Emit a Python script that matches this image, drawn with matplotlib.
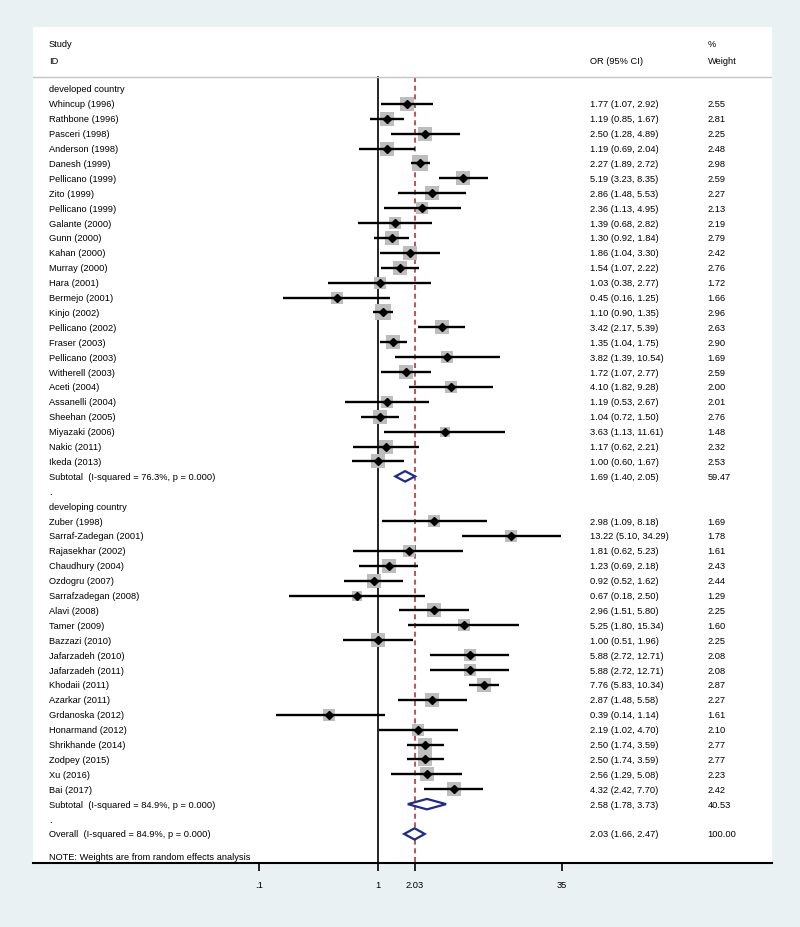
import matplotlib.pyplot as plt
import numpy as np

plt.rcParams['font.family'] = ['Liberation Sans', 'DejaVu Sans']

# developed country studies
dev_names = ["Whincup (1996)", "Rathbone (1996)", "Pasceri (1998)", "Anderson (1998)", "Danesh (1999)",
             "Pellicano (1999)", "Zito (1999)", "Pellicano (1999)", "Galante (2000)", "Gunn (2000)",
             "Kahan (2000)", "Murray (2000)", "Hara (2001)", "Bermejo (2001)", "Kinjo (2002)",
             "Pellicano (2002)", "Fraser (2003)", "Pellicano (2003)", "Witherell (2003)", "Aceti (2004)",
             "Assanelli (2004)", "Sheehan (2005)", "Miyazaki (2006)", "Nakic (2011)", "Ikeda (2013)"]
dev_or = [1.77, 1.19, 2.50, 1.19, 2.27, 5.19, 2.86, 2.36, 1.39, 1.30, 1.86, 1.54, 1.03, 0.45, 1.10,
          3.42, 1.35, 3.82, 1.72, 4.10, 1.19, 1.04, 3.63, 1.17, 1.00]
dev_lo = [1.07, 0.85, 1.28, 0.69, 1.89, 3.23, 1.48, 1.13, 0.68, 0.92, 1.04, 1.07, 0.38, 0.16, 0.90,
          2.17, 1.04, 1.39, 1.07, 1.82, 0.53, 0.72, 1.13, 0.62, 0.60]
dev_hi = [2.92, 1.67, 4.89, 2.04, 2.72, 8.35, 5.53, 4.95, 2.82, 1.84, 3.30, 2.22, 2.77, 1.25, 1.35,
          5.39, 1.75, 10.54, 2.77, 9.28, 2.67, 1.50, 11.61, 2.21, 1.67]
dev_w = [2.55, 2.81, 2.25, 2.48, 2.98, 2.59, 2.27, 2.13, 2.19, 2.79, 2.42, 2.76, 1.72, 1.66, 2.96,
         2.63, 2.90, 1.69, 2.59, 2.00, 2.01, 2.76, 1.48, 2.32, 2.53]
dev_sub = (1.69, 1.40, 2.05, 59.47)
dev_sub_label = "Subtotal  (I-squared = 76.3%, p = 0.000)"

# developing country studies
dvg_names = ["Zuber (1998)", "Sarraf-Zadegan (2001)", "Rajasekhar (2002)", "Chaudhury (2004)",
             "Ozdogru (2007)", "Sarrafzadegan (2008)", "Alavi (2008)", "Tamer (2009)", "Bazzazi (2010)",
             "Jafarzadeh (2010)", "Jafarzadeh (2011)", "Khodaii (2011)", "Azarkar (2011)",
             "Grdanoska (2012)", "Honarmand (2012)", "Shrikhande (2014)", "Zodpey (2015)", "Xu (2016)",
             "Bai (2017)"]
dvg_or = [2.98, 13.22, 1.81, 1.23, 0.92, 0.67, 2.96, 5.25, 1.00, 5.88, 5.88, 7.76, 2.87, 0.39, 2.19,
          2.50, 2.50, 2.56, 4.32]
dvg_lo = [1.09, 5.10, 0.62, 0.69, 0.52, 0.18, 1.51, 1.80, 0.51, 2.72, 2.72, 5.83, 1.48, 0.14, 1.02,
          1.74, 1.74, 1.29, 2.42]
dvg_hi = [8.18, 34.29, 5.23, 2.18, 1.62, 2.50, 5.80, 15.34, 1.96, 12.71, 12.71, 10.34, 5.58, 1.14,
          4.70, 3.59, 3.59, 5.08, 7.70]
dvg_w = [1.69, 1.78, 1.61, 2.43, 2.44, 1.29, 2.25, 1.60, 2.25, 2.08, 2.08, 2.87, 2.27, 1.61, 2.10,
         2.77, 2.77, 2.23, 2.42]
dvg_sub = (2.58, 1.78, 3.73, 40.53)
dvg_sub_label = "Subtotal  (I-squared = 84.9%, p = 0.000)"

overall = (2.03, 1.66, 2.47, 100.00)
overall_label = "Overall  (I-squared = 84.9%, p = 0.000)"

xticks = [0.1, 1, 2.03, 35]
xtick_labels = [".1", "1", "2.03", "35"]

fs = 6.7
bg = "#e9f1f3"
box_color = "#bdbdbd"
navy = "#1f2b84"
red = "#b3373a"

fig = plt.figure(figsize=(8, 9.28), dpi=100, facecolor=bg)
# white plot region
ax = fig.add_axes([33 / 800, 1 - 864 / 928, (772 - 33) / 800, (864 - 28) / 928])
ax.set_facecolor("white")
ax.set_xscale("log")
ax.set_xlim(10 ** -2.899, 10 ** 3.311)
ax.set_ylim(51.95, -4.16)

tr = ax.get_yaxis_transform()  # x in axes fraction, y in data rows
x_lab, x_or, x_w = 0.0217, 0.754, 0.913


def fmt_ci(e, lo, hi):
    return f"{e:.2f} ({lo:.2f}, {hi:.2f})"


def draw_study(row, name, e, lo, hi, w):
    ax.plot([lo, hi], [row, row], color="black", lw=1.7, solid_capstyle="butt", zorder=3)
    ax.scatter([e], [row], marker="s", s=40 * w, color=box_color, linewidths=0, zorder=2)
    ax.plot([e], [row], marker="D", ms=3.8, color="black", zorder=4)
    ax.text(x_lab, row, name, transform=tr, fontsize=fs, va="center")
    ax.text(x_or, row, fmt_ci(e, lo, hi), transform=tr, fontsize=fs, va="center")
    ax.text(x_w, row, f"{w:.2f}", transform=tr, fontsize=fs, va="center")


def draw_diamond(row, label, est, h=0.35):
    e, lo, hi, w = est
    ax.fill([lo, e, hi, e, lo], [row, row - h, row, row + h, row], facecolor="white",
            edgecolor=navy, lw=1.6, zorder=5)
    ax.text(x_lab, row, label, transform=tr, fontsize=fs, va="center")
    ax.text(x_or, row, fmt_ci(e, lo, hi), transform=tr, fontsize=fs, va="center")
    ax.text(x_w, row, f"{w:.2f}", transform=tr, fontsize=fs, va="center")


# header
ax.text(x_lab, -3.02, "Study", transform=tr, fontsize=fs, va="center")
ax.text(x_lab, -1.88, "ID", transform=tr, fontsize=fs, va="center")
ax.text(x_or, -1.88, "OR (95% CI)", transform=tr, fontsize=fs, va="center")
ax.text(x_w, -3.02, "%", transform=tr, fontsize=fs, va="center")
ax.text(x_w, -1.88, "Weight", transform=tr, fontsize=fs, va="center")
ax.axhline(-0.8, color="#c4c4c4", lw=1.0)

row = 0
ax.text(x_lab, row, "developed country", transform=tr, fontsize=fs, va="center")
for i in range(len(dev_names)):
    row += 1
    draw_study(row, dev_names[i], dev_or[i], dev_lo[i], dev_hi[i], dev_w[i])
row += 1
draw_diamond(row, dev_sub_label, dev_sub)
row += 1
ax.text(x_lab, row, ".", transform=tr, fontsize=fs, va="center")
row += 1
ax.text(x_lab, row, "developing country", transform=tr, fontsize=fs, va="center")
for i in range(len(dvg_names)):
    row += 1
    draw_study(row, dvg_names[i], dvg_or[i], dvg_lo[i], dvg_hi[i], dvg_w[i])
row += 1
draw_diamond(row, dvg_sub_label, dvg_sub)
row += 1
ax.text(x_lab, row, ".", transform=tr, fontsize=fs, va="center")
row += 1
draw_diamond(row, overall_label, overall, h=0.38)
ax.text(x_lab, row + 1.5, "NOTE: Weights are from random effects analysis", transform=tr,
        fontsize=fs, va="center")

# null line and overall effect line
ax.plot([1, 1], [-0.8, 51.95], color="black", lw=1.2, zorder=1)
ax.plot([overall[0], overall[0]], [-0.8, 51.95], color=red, lw=1.2, dashes=(3, 2.2), zorder=1)

for s in ["top", "left", "right"]:
    ax.spines[s].set_visible(False)
ax.spines["bottom"].set_linewidth(1.5)
ax.set_yticks([])
ax.set_xticks(xticks)
ax.set_xticklabels(xtick_labels, fontsize=fs)
ax.xaxis.set_minor_locator(plt.NullLocator())
ax.tick_params(axis="x", direction="out", length=6, width=1.2, pad=6)

plt.savefig("out.png", dpi=100, facecolor=bg)
plt.close()
